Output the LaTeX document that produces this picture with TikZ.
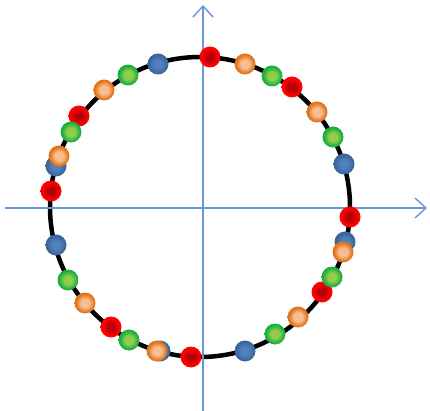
\documentclass[tikz,border=0pt]{standalone}
\usetikzlibrary{arrows.meta}
\definecolor{axisblue}{RGB}{105,150,212}
\definecolor{redout}{RGB}{255,0,0}
\definecolor{redin}{RGB}{185,0,10}
\definecolor{blueout}{RGB}{60,100,155}
\definecolor{bluein}{RGB}{80,130,190}
\definecolor{orangeout}{RGB}{225,115,25}
\definecolor{orangein}{RGB}{248,190,145}
\definecolor{greenout}{RGB}{25,175,65}
\definecolor{greenin}{RGB}{145,205,75}
\pgfdeclareradialshading{redsh}{\pgfpoint{0bp}{0bp}}{color(0bp)=(redin); color(9bp)=(redin); color(20bp)=(redout); color(44bp)=(redout); color(50bp)=(redout!70)}
\pgfdeclareradialshading{bluesh}{\pgfpoint{0bp}{0bp}}{color(0bp)=(bluein); color(9bp)=(bluein); color(22bp)=(blueout); color(44bp)=(blueout); color(50bp)=(blueout!70)}
\pgfdeclareradialshading{orangesh}{\pgfpoint{0bp}{0bp}}{color(0bp)=(orangein); color(10bp)=(orangein); color(22bp)=(orangeout); color(44bp)=(orangeout); color(50bp)=(orangeout!70)}
\pgfdeclareradialshading{greensh}{\pgfpoint{0bp}{0bp}}{color(0bp)=(greenin); color(10bp)=(greenin); color(22bp)=(greenout); color(44bp)=(greenout); color(50bp)=(greenout!70)}
\tikzset{
  axis/.style={draw=axisblue, line width=1.4pt, -{Straight Barb[length=11pt,width=20pt,line width=1.4pt]}},
  ring/.style={draw=black, line width=4.5pt},
  dotbase/.style={circle, minimum size=21pt, inner sep=0pt, draw=none},
  reddot/.style={dotbase, shading=redsh},
  bluedot/.style={dotbase, shading=bluesh},
  orangedot/.style={dotbase, shading=orangesh},
  greendot/.style={dotbase, shading=greensh},
}
\begin{document}
\begin{tikzpicture}[x=1pt, y=-1pt]
\useasboundingbox (0,0) rectangle (430,411);
% ring
\node[circle, minimum size=300pt, inner sep=0pt, ring] (ring) at (200,207) {};
% axes
\coordinate (xl) at (5,208);
\coordinate (xr) at (427,208);
\coordinate (yb) at (203,411);
\coordinate (yt) at (203,5);
\draw[axis] (xl) -- (xr);
\draw[axis] (yb) -- (yt);
% blue dots (drawn first, partly hidden)
\node[bluedot] (b1) at (158,64) {};
\node[bluedot] (b2) at (56,166) {};
\node[bluedot] (b3) at (344,164) {};
\node[bluedot] (b4) at (56,245) {};
\node[bluedot] (b5) at (345,242) {};
\node[bluedot] (b6) at (160,351) {};
\node[bluedot] (b7) at (245,351) {};
% red dots
\node[reddot] (r1) at (210,57) {};
\node[reddot] (r2) at (79,116) {};
\node[reddot] (r3) at (51,191) {};
\node[reddot] (r4) at (292,87) {};
\node[reddot] (r5) at (350,217) {};
\node[reddot] (r6) at (322,292) {};
\node[reddot] (r7) at (111,327) {};
\node[reddot] (r8) at (191,357) {};
% green dots
\node[greendot] (g1) at (128,75) {};
\node[greendot] (g2) at (71,132) {};
\node[greendot] (g3) at (272,76) {};
\node[greendot] (g4) at (333,137) {};
\node[greendot] (g5) at (68,280) {};
\node[greendot] (g6) at (129,340) {};
\node[greendot] (g7) at (332,277) {};
\node[greendot] (g8) at (275,334) {};
% orange dots
\node[orangedot] (o1) at (104,90) {};
\node[orangedot] (o2) at (59,156) {};
\node[orangedot] (o3) at (245,64) {};
\node[orangedot] (o4) at (317,112) {};
\node[orangedot] (o5) at (85,303) {};
\node[orangedot] (o6) at (157,351) {};
\node[orangedot] (o7) at (343,252) {};
\node[orangedot] (o8) at (298,317) {};
\end{tikzpicture}
\end{document}
